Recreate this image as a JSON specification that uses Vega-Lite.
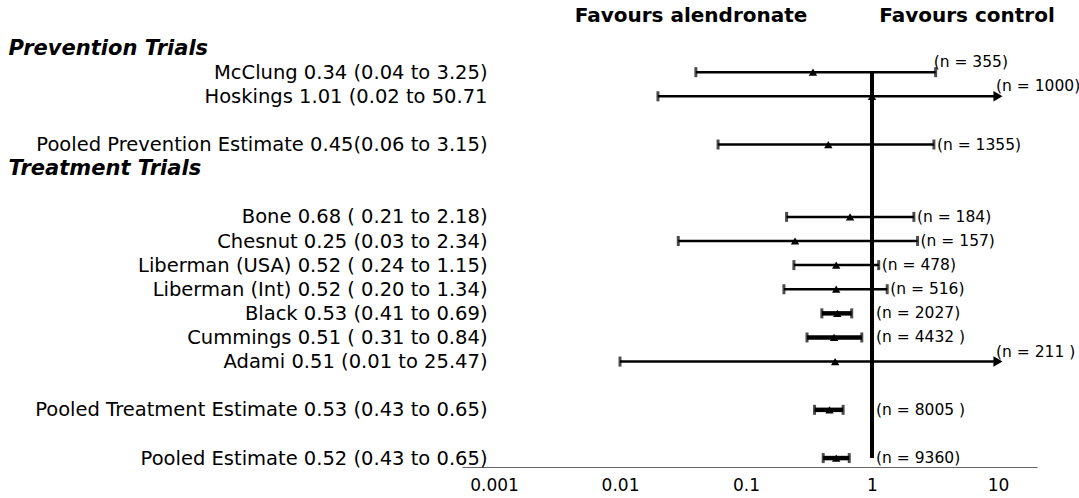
{
  "$schema": "https://vega.github.io/schema/vega-lite/v6.json",
  "width": 575,
  "height": 452,
  "autosize": "none",
  "padding": {"left": 462, "top": 15, "right": 42, "bottom": 31},
  "background": "white",
  "config": {"view": {"stroke": null}},
  "data": {
    "values": [
      {"study": "McClung 0.34 (0.04 to 3.25)", "est": 0.34, "lo": 0.04, "hi": 3.2, "truncated": false, "n": "(n = 355)"},
      {"study": "Hoskings 1.01 (0.02 to 50.71", "est": 1.0, "lo": 0.02, "hi": 10, "truncated": true, "n": "(n = 1000)"},
      {"study": "Pooled Prevention Estimate 0.45(0.06 to 3.15)", "est": 0.45, "lo": 0.06, "hi": 3.1, "truncated": false, "n": "(n = 1355)"},
      {"study": "Bone 0.68 ( 0.21 to 2.18)", "est": 0.67, "lo": 0.21, "hi": 2.15, "truncated": false, "n": "(n =  184)"},
      {"study": "Chesnut 0.25 (0.03 to 2.34)", "est": 0.245, "lo": 0.029, "hi": 2.3, "truncated": false, "n": "(n = 157)"},
      {"study": "Liberman (USA) 0.52 ( 0.24 to 1.15)", "est": 0.52, "lo": 0.24, "hi": 1.13, "truncated": false, "n": "(n = 478)"},
      {"study": "Liberman (Int) 0.52 ( 0.20 to 1.34)", "est": 0.52, "lo": 0.2, "hi": 1.32, "truncated": false, "n": "(n = 516)"},
      {"study": "Black 0.53 (0.41 to 0.69)", "est": 0.53, "lo": 0.4, "hi": 0.69, "truncated": false, "n": "(n = 2027)"},
      {"study": "Cummings 0.51 ( 0.31 to 0.84)", "est": 0.5, "lo": 0.305, "hi": 0.83, "truncated": false, "n": "(n = 4432 )"},
      {"study": "Adami 0.51 (0.01 to 25.47)", "est": 0.51, "lo": 0.01, "hi": 10, "truncated": true, "n": "(n = 211 )"},
      {"study": "Pooled Treatment Estimate 0.53 (0.43 to 0.65)", "est": 0.46, "lo": 0.35, "hi": 0.59, "truncated": false, "n": "(n = 8005 )"},
      {"study": "Pooled Estimate  0.52 (0.43 to 0.65)", "est": 0.52, "lo": 0.41, "hi": 0.66, "truncated": false, "n": "(n = 9360)"}
    ]
  },
  "encoding": {
    "y": {
      "field": "study",
      "type": "nominal",
      "title": null,
      "scale": {
        "type": "point",
        "padding": 0.37,
        "domain": [
          "top",
          "Prevention Trials",
          "McClung 0.34 (0.04 to 3.25)",
          "Hoskings 1.01 (0.02 to 50.71",
          "gap1",
          "Pooled Prevention Estimate 0.45(0.06 to 3.15)",
          "Treatment Trials",
          "gap2",
          "Bone 0.68 ( 0.21 to 2.18)",
          "Chesnut 0.25 (0.03 to 2.34)",
          "Liberman (USA) 0.52 ( 0.24 to 1.15)",
          "Liberman (Int) 0.52 ( 0.20 to 1.34)",
          "Black 0.53 (0.41 to 0.69)",
          "Cummings 0.51 ( 0.31 to 0.84)",
          "Adami 0.51 (0.01 to 25.47)",
          "gap3",
          "Pooled Treatment Estimate 0.53 (0.43 to 0.65)",
          "gap4",
          "Pooled Estimate  0.52 (0.43 to 0.65)"
        ]
      },
      "axis": {
        "domain": false,
        "ticks": false,
        "tickSize": 0,
        "grid": false,
        "labelOverlap": false,
        "labelBound": false,
        "labelLimit": 800,
        "labelColor": "black",
        "labelFont": "DejaVu Sans",
        "labelExpr": "datum.value == 'top' || indexof(datum.value, 'gap') == 0 ? '' : datum.value",
        "labelFontSize": {"condition": {"test": "datum.value == 'Prevention Trials' || datum.value == 'Treatment Trials'", "value": 21}, "value": 19.5},
        "labelFontWeight": {"condition": {"test": "datum.value == 'Prevention Trials' || datum.value == 'Treatment Trials'", "value": "bold"}, "value": "normal"},
        "labelFontStyle": {"condition": {"test": "datum.value == 'Prevention Trials' || datum.value == 'Treatment Trials'", "value": "italic"}, "value": "normal"},
        "labelAlign": {"condition": {"test": "datum.value == 'Prevention Trials' || datum.value == 'Treatment Trials'", "value": "left"}, "value": "right"},
        "labelPadding": {"condition": {"test": "datum.value == 'Prevention Trials' || datum.value == 'Treatment Trials'", "value": 454}, "value": -25}
      }
    }
  },
  "layer": [
    {
      "data": {"values": [{}]},
      "mark": {"type": "rule", "color": "black", "strokeWidth": 4},
      "encoding": {
        "x": {"datum": 1, "type": "quantitative", "title": null, "scale": {"type": "log", "domain": [0.000557, 20.4], "nice": false}},
        "y": {"datum": "McClung 0.34 (0.04 to 3.25)", "type": "nominal"},
        "y2": {"datum": "Pooled Estimate  0.52 (0.43 to 0.65)"}
      }
    },
    {
      "mark": {"type": "rule", "color": "black"},
      "encoding": {
        "x": {
          "field": "lo", "type": "quantitative", "title": null,
          "scale": {"type": "log", "domain": [0.000557, 20.4], "nice": false},
          "axis": {
            "values": [0.001, 0.01, 0.1, 1, 10],
            "format": "~g",
            "grid": false,
            "ticks": false,
            "tickSize": 0,
            "labelPadding": 10,
            "labelFont": "DejaVu Sans",
            "labelFontSize": 17,
            "labelColor": "black",
            "labelFlush": false,
            "labelOverlap": false,
            "domainColor": "#666666",
            "domainWidth": 1
          }
        },
        "x2": {"field": "hi"},
        "strokeWidth": {"condition": {"test": "datum.hi / datum.lo < 3", "value": 4.5}, "value": 2.5}
      }
    },
    {
      "mark": {"type": "tick", "color": "black", "size": 10, "thickness": 3},
      "encoding": {
        "x": {"field": "lo", "type": "quantitative", "title": null, "scale": {"type": "log", "domain": [0.000557, 20.4], "nice": false}}
      }
    },
    {
      "transform": [{"filter": "!datum.truncated"}],
      "mark": {"type": "tick", "color": "black", "size": 10, "thickness": 3},
      "encoding": {
        "x": {"field": "hi", "type": "quantitative", "title": null, "scale": {"type": "log", "domain": [0.000557, 20.4], "nice": false}}
      }
    },
    {
      "transform": [{"filter": "datum.truncated"}],
      "mark": {"type": "point", "shape": "triangle-right", "filled": true, "color": "black", "opacity": 1, "size": 110},
      "encoding": {
        "x": {"field": "hi", "type": "quantitative", "title": null, "scale": {"type": "log", "domain": [0.000557, 20.4], "nice": false}}
      }
    },
    {
      "mark": {"type": "point", "shape": "triangle-up", "filled": true, "color": "black", "opacity": 1, "size": 70},
      "encoding": {
        "x": {"field": "est", "type": "quantitative", "title": null, "scale": {"type": "log", "domain": [0.000557, 20.4], "nice": false}}
      }
    },
    {
      "transform": [{"filter": "datum.hi < 1"}],
      "mark": {"type": "text", "align": "left", "baseline": "middle", "dx": 4, "font": "DejaVu Sans", "fontSize": 15.5, "color": "black"},
      "encoding": {
        "x": {"datum": 1, "type": "quantitative", "title": null, "scale": {"type": "log", "domain": [0.000557, 20.4], "nice": false}},
        "text": {"field": "n"}
      }
    },
    {
      "transform": [{"filter": "datum.hi >= 1 && datum.hi <= 3.15"}],
      "mark": {"type": "text", "align": "left", "baseline": "middle", "dx": 3, "font": "DejaVu Sans", "fontSize": 15.5, "color": "black"},
      "encoding": {
        "x": {"field": "hi", "type": "quantitative", "title": null, "scale": {"type": "log", "domain": [0.000557, 20.4], "nice": false}},
        "text": {"field": "n"}
      }
    },
    {
      "transform": [{"filter": "datum.hi > 3.15"}],
      "mark": {"type": "text", "align": "left", "baseline": "middle", "dx": -2, "dy": -10, "font": "DejaVu Sans", "fontSize": 15.5, "color": "black"},
      "encoding": {
        "x": {"field": "hi", "type": "quantitative", "title": null, "scale": {"type": "log", "domain": [0.000557, 20.4], "nice": false}},
        "text": {"field": "n"}
      }
    },
    {
      "data": {"values": [{}]},
      "mark": {"type": "text", "text": "Favours alendronate", "align": "center", "baseline": "middle", "dy": -8, "font": "DejaVu Sans", "fontWeight": "bold", "fontSize": 20, "color": "black"},
      "encoding": {
        "x": {"datum": 0.0366, "type": "quantitative", "title": null, "scale": {"type": "log", "domain": [0.000557, 20.4], "nice": false}},
        "y": {"datum": "top", "type": "nominal"}
      }
    },
    {
      "data": {"values": [{}]},
      "mark": {"type": "text", "text": "Favours control", "align": "center", "baseline": "middle", "dy": -8, "font": "DejaVu Sans", "fontWeight": "bold", "fontSize": 20, "color": "black"},
      "encoding": {
        "x": {"datum": 5.68, "type": "quantitative", "title": null, "scale": {"type": "log", "domain": [0.000557, 20.4], "nice": false}},
        "y": {"datum": "top", "type": "nominal"}
      }
    }
  ]
}
